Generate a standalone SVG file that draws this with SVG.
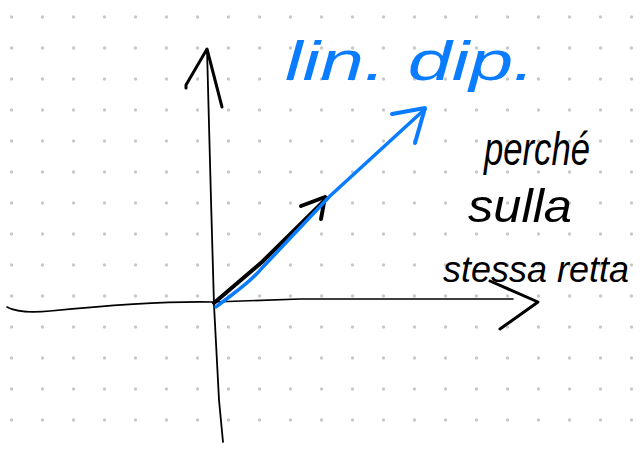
<svg xmlns="http://www.w3.org/2000/svg" width="641" height="449" viewBox="0 0 641 449">
<style>
.ink{fill:none;stroke:#000;stroke-linecap:round;stroke-linejoin:round}
.blue{fill:none;stroke:#0a7cff;stroke-linecap:round;stroke-linejoin:round}
.hand{font-family:"Liberation Sans",Arial,sans-serif;font-style:italic}
.bk{fill:#000}
.bl{fill:#0a7cff}
</style>
<defs>
<pattern id="dots" patternUnits="userSpaceOnUse" width="31" height="31">
<circle cx="11.5" cy="17" r="1.7" fill="#c8c8c8"/>
</pattern>
</defs>
<rect width="641" height="449" fill="#fff"/>
<rect width="641" height="449" fill="url(#dots)"/>
<g id="connectors">
<path class="ink" stroke-width="1.8" d="M223,442 L219,400 L214,305 L211,200 L207,49"/>
<path class="ink" stroke-width="3" d="M186,88 L186,85 L207,49 L222,107"/>
<path class="ink" stroke-width="1.6" d="M7,307 C14,311 30,313 50,311 C100,306 160,301 213,302 L300,299 L513,299"/>
<path class="ink" stroke-width="3" d="M490,281 L538,302 L500,329"/>
<path class="ink" stroke-width="4" d="M214,303 L262,262 L327,198"/>
<path class="ink" stroke-width="4" d="M301,206 L325,197 L321,219"/>
<path class="blue" stroke-width="3.5" d="M216,307 C235,292 250,283 262,268 L330,196 L425,109"/>
<path class="blue" stroke-width="4" d="M392,114 L425,108 L415,143"/>
</g>
<g id="label-lin-dip">
<text class="hand bl" x="285" y="80" font-size="56" textLength="250" lengthAdjust="spacingAndGlyphs">lin. dip.</text>
</g>
<g id="label-perche">
<text class="hand bk" x="484" y="165" font-size="46" textLength="106" lengthAdjust="spacingAndGlyphs">perché</text>
</g>
<g id="label-sulla">
<text class="hand bk" x="468" y="222" font-size="46" textLength="104" lengthAdjust="spacingAndGlyphs">sulla</text>
</g>
<g id="label-stessa-retta">
<text class="hand bk" x="443" y="282" font-size="36" textLength="186" lengthAdjust="spacingAndGlyphs">stessa retta</text>
</g>
</svg>
